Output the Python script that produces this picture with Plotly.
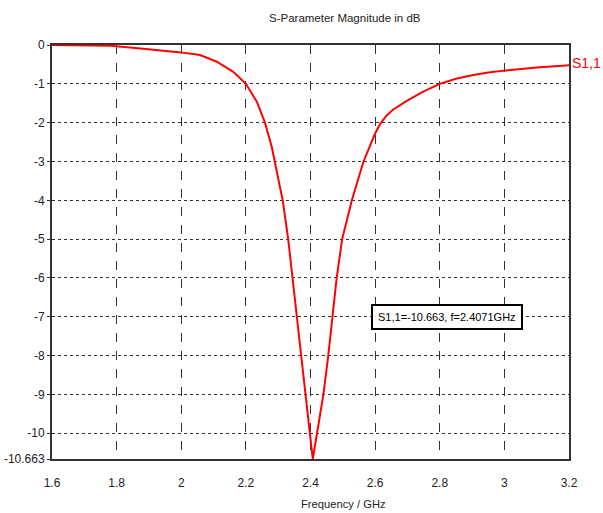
import plotly.graph_objects as go

freq_ghz = [1.60, 1.70, 1.78, 1.85, 1.934, 2.00, 2.058, 2.110, 2.161, 2.200,
            2.234, 2.259, 2.280, 2.293, 2.314, 2.331, 2.344, 2.357, 2.370, 2.383, 2.398,
            2.4071, 2.421, 2.440, 2.455, 2.468, 2.481, 2.498, 2.528, 2.564, 2.585,
            2.600, 2.615, 2.635, 2.656, 2.698, 2.749, 2.800, 2.850, 2.900, 2.950,
            3.000, 3.100, 3.200]
s11_db = [0.00, -0.01, -0.02, -0.07, -0.13, -0.19, -0.26, -0.43, -0.69, -1.00,
          -1.46, -2.00, -2.62, -3.14, -4.00, -5.00, -6.00, -7.00, -8.00, -9.00, -10.00,
          -10.663, -10.00, -9.00, -8.00, -7.00, -6.00, -5.00, -4.00, -3.00, -2.55,
          -2.28, -2.04, -1.82, -1.66, -1.44, -1.20, -1.00, -0.87, -0.78, -0.71,
          -0.66, -0.58, -0.52]

x_ticks = [1.6, 1.8, 2.0, 2.2, 2.4, 2.6, 2.8, 3.0, 3.2]
x_ticktext = ["1.6", "1.8", "2", "2.2", "2.4", "2.6", "2.8", "3", "3.2"]
y_ticks = [0, -1, -2, -3, -4, -5, -6, -7, -8, -9, -10, -10.663]
y_ticktext = ["0", "-1", "-2", "-3", "-4", "-5", "-6", "-7", "-8", "-9", "-10", "-10.663"]

series_name = "S1,1"
marker_db = -10.663
marker_f = 2.4071

FONT = "Liberation Sans, Arial, sans-serif"

W, H = 603, 513
ML, MR, MT, MB = 52, 34, 45, 54
PW, PH = W - ML - MR, H - MT - MB


def px_x(p):
    return (p - ML) / PW


def px_y(p):
    return (H - p - MB) / PH


fig = go.Figure()
fig.add_trace(go.Scatter(x=freq_ghz, y=s11_db, mode="lines",
                         line=dict(color="#ff0000", width=2),
                         name=series_name, showlegend=False, hoverinfo="skip"))

fig.add_annotation(x=freq_ghz[-1], y=s11_db[-1], xref="x", yref="y",
                   text=series_name, showarrow=False, xanchor="left", yanchor="middle",
                   xshift=1, yshift=2, font=dict(color="#ff0000", size=14, family=FONT))

fig.add_annotation(x=2.821, y=-7, xref="x", yref="y",
                   text=f"{series_name}={marker_db}, f={marker_f}GHz", showarrow=False,
                   xanchor="center", yanchor="middle",
                   font=dict(color="#000000", size=11, family=FONT),
                   bgcolor="white", bordercolor="#000000", borderwidth=2, borderpad=5)

fig.add_annotation(x=px_x(345), y=px_y(18), xref="paper", yref="paper",
                   text="S-Parameter Magnitude in dB", showarrow=False,
                   xanchor="center", yanchor="middle",
                   font=dict(color="#222222", size=11.5, family=FONT))

fig.add_annotation(x=px_x(343), y=px_y(504), xref="paper", yref="paper",
                   text="Frequency / GHz", showarrow=False,
                   xanchor="center", yanchor="middle",
                   font=dict(color="#222222", size=11.2, family=FONT))

fig.update_layout(
    width=W, height=H,
    margin=dict(l=ML, r=MR, t=MT, b=MB, autoexpand=False),
    paper_bgcolor="white", plot_bgcolor="white",
    font=dict(family=FONT, size=12, color="#222222"),
    xaxis=dict(range=[1.6, 3.2], tickvals=x_ticks, ticktext=x_ticktext,
               showgrid=True, gridcolor="#333333", griddash="dash", gridwidth=1,
               showline=True, linecolor="#333333", linewidth=2, mirror=True,
               ticks="", zeroline=False, tickfont=dict(size=12), ticklabelstandoff=12),
    yaxis=dict(range=[-10.663, 0], tickvals=y_ticks, ticktext=y_ticktext,
               showgrid=True, gridcolor="#333333", griddash="dot", gridwidth=1,
               showline=True, linecolor="#333333", linewidth=2, mirror=True,
               ticks="outside", ticklen=3, tickcolor="#333333", zeroline=False,
               tickfont=dict(size=12)),
)

fig.write_html("out.html", config={"displayModeBar": False},
               post_script="document.body.style.margin='0';document.body.style.overflow='hidden';")
